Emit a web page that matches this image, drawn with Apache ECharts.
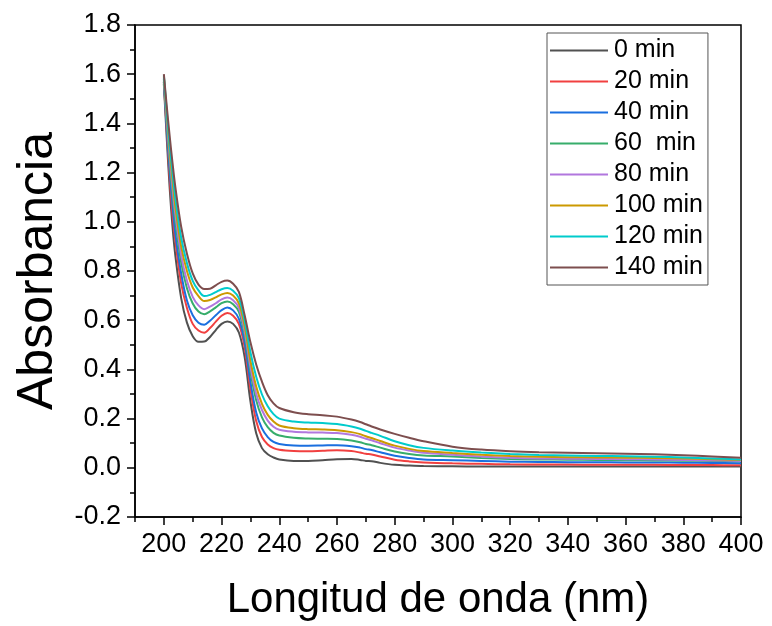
<!DOCTYPE html>
<html>
<head>
<meta charset="utf-8">
<script src="https://cdn.jsdelivr.net/npm/echarts@6/dist/echarts.min.js"></script>
<style>
  html, body { margin: 0; padding: 0; background: #fff; }
  #chart { width: 772px; height: 626px; }
</style>
</head>
<body>
<div id="chart"></div>
<script>
// longitud de onda (nm)
const wavelength = [200, 201, 202, 203, 204, 206, 208, 210, 212, 214, 216, 218, 220, 222, 224, 226, 228, 230, 232, 234, 236, 238, 240,
  245, 250, 255, 260, 265, 268, 270, 272, 275, 280, 285, 290, 300, 310, 320, 330, 340, 350, 360, 370, 380, 390, 400];

// absorbancia por tiempo
const abs0 = [1.56, 1.34, 1.14, 0.98, 0.86, 0.69, 0.59, 0.535, 0.512, 0.513, 0.532, 0.56, 0.585, 0.595, 0.585, 0.55, 0.45, 0.27, 0.14, 0.08, 0.055, 0.042, 0.034,
  0.028, 0.028, 0.031, 0.035, 0.036, 0.032, 0.028, 0.027, 0.02, 0.012, 0.009, 0.007, 0.006, 0.005, 0.005, 0.005, 0.005, 0.005, 0.005, 0.005, 0.005, 0.005, 0.005];
const abs20 = [1.57, 1.37, 1.18, 1.03, 0.92, 0.75, 0.65, 0.585, 0.558, 0.549, 0.568, 0.594, 0.618, 0.629, 0.618, 0.585, 0.49, 0.32, 0.19, 0.125, 0.095, 0.08, 0.073,
  0.068, 0.067, 0.069, 0.071, 0.068, 0.062, 0.057, 0.054, 0.046, 0.033, 0.026, 0.022, 0.018, 0.016, 0.014, 0.013, 0.013, 0.012, 0.012, 0.012, 0.011, 0.011, 0.01];
const abs40 = [1.57, 1.38, 1.21, 1.07, 0.95, 0.79, 0.68, 0.62, 0.59, 0.582, 0.598, 0.62, 0.641, 0.652, 0.64, 0.606, 0.51, 0.35, 0.225, 0.16, 0.125, 0.105, 0.097,
  0.091, 0.09, 0.091, 0.092, 0.088, 0.082, 0.076, 0.072, 0.063, 0.049, 0.04, 0.034, 0.031, 0.028, 0.025, 0.024, 0.023, 0.023, 0.022, 0.022, 0.021, 0.02, 0.019];
const abs60 = [1.58, 1.405, 1.245, 1.11, 1.0, 0.835, 0.73, 0.668, 0.635, 0.624, 0.636, 0.652, 0.669, 0.676, 0.665, 0.634, 0.54, 0.39, 0.275, 0.205, 0.165, 0.142, 0.131,
  0.122, 0.119, 0.118, 0.117, 0.111, 0.104, 0.097, 0.092, 0.082, 0.066, 0.056, 0.05, 0.046, 0.04, 0.036, 0.034, 0.033, 0.032, 0.031, 0.03, 0.029, 0.028, 0.027];
const abs80 = [1.585, 1.42, 1.27, 1.14, 1.03, 0.865, 0.76, 0.695, 0.66, 0.645, 0.655, 0.669, 0.685, 0.692, 0.681, 0.65, 0.556, 0.41, 0.3, 0.235, 0.192, 0.167, 0.155,
  0.147, 0.144, 0.143, 0.141, 0.134, 0.126, 0.118, 0.112, 0.1, 0.082, 0.07, 0.061, 0.053, 0.046, 0.041, 0.038, 0.037, 0.036, 0.035, 0.034, 0.032, 0.03, 0.028];
const abs100 = [1.59, 1.435, 1.29, 1.17, 1.06, 0.9, 0.8, 0.733, 0.698, 0.678, 0.682, 0.693, 0.705, 0.711, 0.7, 0.668, 0.575, 0.435, 0.33, 0.26, 0.215, 0.188, 0.172,
  0.161, 0.157, 0.156, 0.153, 0.145, 0.137, 0.128, 0.121, 0.109, 0.09, 0.077, 0.068, 0.06, 0.053, 0.048, 0.045, 0.043, 0.042, 0.041, 0.04, 0.038, 0.035, 0.032];
const abs120 = [1.595, 1.45, 1.315, 1.2, 1.095, 0.935, 0.832, 0.76, 0.721, 0.698, 0.703, 0.714, 0.726, 0.731, 0.72, 0.69, 0.598, 0.47, 0.37, 0.298, 0.25, 0.218, 0.2,
  0.188, 0.184, 0.182, 0.178, 0.168, 0.159, 0.15, 0.142, 0.13, 0.108, 0.092, 0.081, 0.07, 0.062, 0.056, 0.052, 0.05, 0.048, 0.047, 0.045, 0.042, 0.038, 0.034];
const abs140 = [1.6, 1.47, 1.35, 1.24, 1.14, 0.98, 0.87, 0.79, 0.745, 0.727, 0.728, 0.742, 0.756, 0.761, 0.748, 0.715, 0.62, 0.51, 0.42, 0.35, 0.295, 0.262, 0.243,
  0.226, 0.218, 0.214, 0.208, 0.196, 0.186, 0.177, 0.168, 0.156, 0.138, 0.122, 0.108, 0.086, 0.074, 0.067, 0.063, 0.061, 0.059, 0.057, 0.055, 0.051, 0.046, 0.041];

const seriesNames = ['0 min', '20 min', '40 min', '60  min', '80 min', '100 min', '120 min', '140 min'];
const seriesValues = [abs0, abs20, abs40, abs60, abs80, abs100, abs120, abs140];
const colors = ['#515151', '#F14040', '#1A6FDF', '#37AD6B', '#B177DE', '#CC9900', '#00CBCC', '#7D4E4E'];

const xMin = 190, xMax = 400, xStep = 20;
const yMin = -0.2, yMax = 1.8, yStep = 0.2;

const font = '"Liberation Sans", Arial, sans-serif';

// area de trazado
const plotLeft = 135, plotRight = 31, plotTop = 25, plotBottom = 109;
const plotWidth = 772 - plotLeft - plotRight;
// eje auxiliar que empieza en 200 para los ticks mayores y etiquetas
const majorLeft = plotLeft + plotWidth * (200 - xMin) / (xMax - xMin);

let chart = echarts.init(document.getElementById('chart'), null, { renderer: 'canvas' });

chart.setOption({
    animation: false,
    backgroundColor: '#fff',
    color: colors,
    grid: [{
        left: plotLeft,
        right: plotRight,
        top: plotTop,
        bottom: plotBottom,
        show: true,
        borderColor: '#000',
        borderWidth: 1.5
    }, {
        left: majorLeft,
        right: plotRight,
        bottom: plotBottom,
        height: 10,
        show: false
    }],
    legend: {
        orient: 'vertical',
        left: 547,
        top: 33,
        padding: [5, 5, 5, 3],
        itemGap: 6,
        itemWidth: 58,
        itemHeight: 2,
        icon: 'rect',
        borderColor: '#555',
        borderWidth: 1,
        textStyle: { fontFamily: font, fontSize: 25, lineHeight: 24, color: '#000', padding: [0, 0, 0, 1] },
        data: seriesNames
    },
    xAxis: [{
        type: 'value',
        gridIndex: 0,
        min: xMin,
        max: xMax,
        interval: 10,
        name: 'Longitud de onda (nm)',
        nameLocation: 'middle',
        nameGap: 62,
        nameTextStyle: { fontFamily: font, fontSize: 42, color: '#000' },
        axisLine: { show: true, onZero: false, lineStyle: { color: '#000', width: 1.5 } },
        axisTick: { show: true, inside: false, length: 5, lineStyle: { color: '#000', width: 1.5 } },
        axisLabel: { show: false },
        splitLine: { show: false }
    }, {
        type: 'value',
        gridIndex: 1,
        position: 'bottom',
        min: 200,
        max: xMax,
        interval: xStep,
        axisLine: { show: false, onZero: false },
        axisTick: { show: true, length: 8, lineStyle: { color: '#000', width: 1.5 } },
        axisLabel: { show: true, margin: 14, fontFamily: font, fontSize: 27, color: '#000' },
        splitLine: { show: false }
    }],
    yAxis: [{
        type: 'value',
        gridIndex: 0,
        min: yMin,
        max: yMax,
        interval: yStep,
        name: 'Absorbancia',
        nameLocation: 'middle',
        nameGap: 72,
        nameTextStyle: { fontFamily: font, fontSize: 50, color: '#000' },
        axisLine: { show: true, onZero: false, lineStyle: { color: '#000', width: 1.5 } },
        axisTick: { show: true, length: 8, lineStyle: { color: '#000', width: 1.5 } },
        minorTick: { show: true, splitNumber: 2, length: 5, lineStyle: { color: '#000', width: 1.5 } },
        axisLabel: {
            margin: 14,
            fontFamily: font,
            fontSize: 27,
            color: '#000',
            formatter: v => v.toFixed(1)
        },
        splitLine: { show: false }
    }, {
        type: 'value',
        gridIndex: 1,
        show: false
    }],
    series: seriesNames.map((name, k) => ({
        name: name,
        type: 'line',
        xAxisIndex: 0,
        yAxisIndex: 0,
        showSymbol: false,
        smooth: 0.35,
        lineStyle: { width: 2 },
        data: wavelength.map((x, i) => [x, seriesValues[k][i]])
    }))
});
</script>
</body>
</html>
